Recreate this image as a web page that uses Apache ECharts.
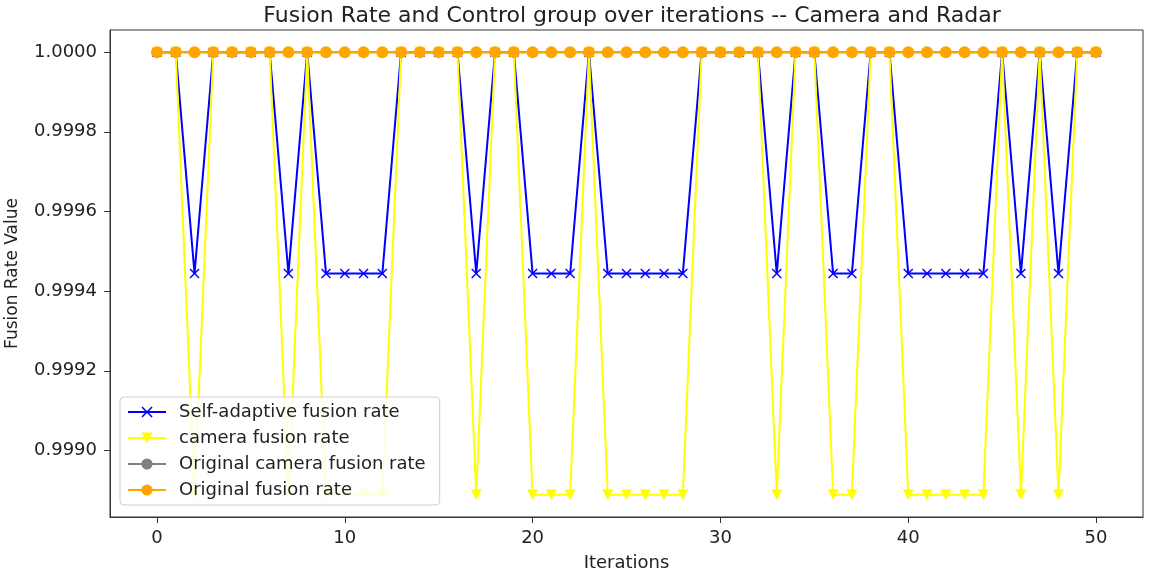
<!DOCTYPE html>
<html>
<head>
<meta charset="utf-8">
<script src="https://cdn.jsdelivr.net/npm/echarts@6/dist/echarts.min.js"></script>
<style>
  html, body { margin: 0; padding: 0; background: #fff; }
  #main { width: 1149px; height: 575px; }
</style>
</head>
<body>
<div id="main"></div>
<script>
// iterations 0..50
var iterations = [0,1,2,3,4,5,6,7,8,9,10,11,12,13,14,15,16,17,18,19,20,21,22,23,24,25,
  26,27,28,29,30,31,32,33,34,35,36,37,38,39,40,41,42,43,44,45,46,47,48,49,50];

// self-adaptive fusion rate (blue x)
var selfAdaptive = [1,1,0.999444,1,1,1,1,0.999444,1,0.999444,0.999444,0.999444,0.999444,1,1,1,1,
  0.999444,1,1,0.999444,0.999444,0.999444,1,0.999444,0.999444,0.999444,0.999444,0.999444,1,1,1,1,
  0.999444,1,1,0.999444,0.999444,1,1,0.999444,0.999444,0.999444,0.999444,0.999444,1,0.999444,1,
  0.999444,1,1];

// camera fusion rate (yellow triangles)
var cameraRate = [1,1,0.998889,1,1,1,1,0.998889,1,0.998889,0.998889,0.998889,0.998889,1,1,1,1,
  0.998889,1,1,0.998889,0.998889,0.998889,1,0.998889,0.998889,0.998889,0.998889,0.998889,1,1,1,1,
  0.998889,1,1,0.998889,0.998889,1,1,0.998889,0.998889,0.998889,0.998889,0.998889,1,0.998889,1,
  0.998889,1,1];

var originalCamera = [1,1,1,1,1,1,1,1,1,1,1,1,1,1,1,1,1,1,1,1,1,1,1,1,1,1,
  1,1,1,1,1,1,1,1,1,1,1,1,1,1,1,1,1,1,1,1,1,1,1,1,1];
var originalFusion = [1,1,1,1,1,1,1,1,1,1,1,1,1,1,1,1,1,1,1,1,1,1,1,1,1,1,
  1,1,1,1,1,1,1,1,1,1,1,1,1,1,1,1,1,1,1,1,1,1,1,1,1];

var xTicks = [0, 10, 20, 30, 40, 50];
var yTicks = [0.9990, 0.9992, 0.9994, 0.9996, 0.9998, 1.0000];

function pairs(ys) {
  return iterations.map(function (x, i) { return [x, ys[i]]; });
}

var xMark = 'path://M0,1L1,0L5,4L9,0L10,1L6,5L10,9L9,10L5,6L1,10L0,9L4,5Z';
var font = 'DejaVu Sans';

var myChart = echarts.init(document.getElementById('main'));

var option = {
  animation: false,
  backgroundColor: '#fff',
  title: {
    text: 'Fusion Rate and Control group over iterations -- Camera and Radar',
    left: 627,
    textAlign: 'center',
    top: 0,
    textStyle: { fontFamily: font, fontSize: 22, fontWeight: 'normal', color: '#222' }
  },
  legend: {
    orient: 'vertical',
    left: 120,
    top: 397,
    padding: [6, 14, 6, 7],
    itemWidth: 38,
    itemHeight: 14,
    itemGap: 8,
    backgroundColor: 'rgba(255,255,255,0.85)',
    borderColor: '#d0d0d0',
    borderWidth: 1,
    borderRadius: 4,
    textStyle: { fontFamily: font, fontSize: 18, lineHeight: 18, color: '#222', padding: [0, 0, 0, 8] },
    data: ['Self-adaptive fusion rate', 'camera fusion rate', 'Original camera fusion rate', 'Original fusion rate']
  },
  grid: {
    left: 110, right: 6, top: 30, bottom: 58,
    outerBoundsMode: 'none',
    containLabel: false,
    show: true, borderColor: '#333', borderWidth: 1, backgroundColor: 'transparent'
  },
  xAxis: {
    type: 'value',
    min: -2.5,
    max: 52.5,
    name: 'Iterations',
    nameLocation: 'middle',
    nameGap: 37,
    nameTextStyle: { fontFamily: font, fontSize: 18, color: '#222' },
    axisLine: { show: true, onZero: false, lineStyle: { color: '#333', width: 1 } },
    axisTick: { show: true, length: 6, customValues: xTicks, lineStyle: { color: '#333' } },
    axisLabel: { customValues: xTicks, margin: 12, fontFamily: font, fontSize: 18, color: '#222' },
    splitLine: { show: false }
  },
  yAxis: {
    type: 'value',
    min: 0.998833,
    max: 1.0000556,
    name: 'Fusion Rate Value',
    nameLocation: 'middle',
    nameGap: 89,
    nameTextStyle: { fontFamily: font, fontSize: 17, color: '#222' },
    axisLine: { show: true, onZero: false, lineStyle: { color: '#333', width: 1 } },
    axisTick: { show: true, length: 6, customValues: yTicks, lineStyle: { color: '#333' } },
    axisLabel: {
      customValues: yTicks, margin: 13, fontFamily: font, fontSize: 18, color: '#222',
      formatter: function (v) { return v.toFixed(4); }
    },
    splitLine: { show: false }
  },
  series: [
    {
      name: 'Self-adaptive fusion rate',
      type: 'line',
      data: pairs(selfAdaptive),
      symbol: xMark,
      symbolSize: 10,
      showAllSymbol: true,
      lineStyle: { color: '#0000ff', width: 2 },
      itemStyle: { color: '#0000ff' }
    },
    {
      name: 'camera fusion rate',
      type: 'line',
      data: pairs(cameraRate),
      symbol: 'triangle',
      symbolRotate: 180,
      symbolSize: 11,
      showAllSymbol: true,
      lineStyle: { color: '#ffff00', width: 2 },
      itemStyle: { color: '#ffff00' }
    },
    {
      name: 'Original camera fusion rate',
      type: 'line',
      data: pairs(originalCamera),
      symbol: 'circle',
      symbolSize: 5,
      showAllSymbol: true,
      lineStyle: { color: '#808080', width: 2 },
      itemStyle: { color: '#808080' }
    },
    {
      name: 'Original fusion rate',
      type: 'line',
      data: pairs(originalFusion),
      symbol: 'circle',
      symbolSize: 12,
      showAllSymbol: true,
      lineStyle: { color: '#ffa500', width: 2 },
      itemStyle: { color: '#ffa500' }
    }
  ]
};

myChart.setOption(option);
</script>
</body>
</html>
